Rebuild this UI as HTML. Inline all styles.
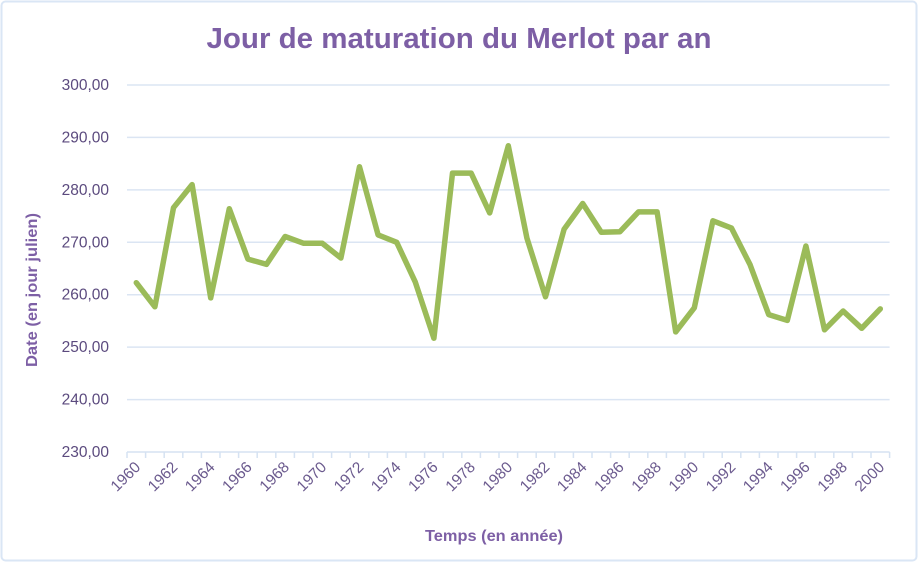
<!DOCTYPE html>
<html><head><meta charset="utf-8"><style>
body{margin:0;background:#fff;}
svg{display:block;font-family:"Liberation Sans",sans-serif;}
</style></head><body>
<svg id="chart" width="918" height="562" viewBox="0 0 918 562" xmlns="http://www.w3.org/2000/svg">
<rect x="1.5" y="1.5" width="915" height="559" rx="4" fill="#fff" stroke="#dae6f5" stroke-width="2"/>
<text x="459" y="48" text-anchor="middle" font-size="29" font-weight="bold" fill="#7d5fa5" textLength="505" lengthAdjust="spacingAndGlyphs">Jour de maturation du Merlot par an</text>
<g id="grid"></g>
<g id="yt"></g>
<g id="xt"></g>
<g id="series"></g>
<text transform="translate(37,290) rotate(-90)" text-anchor="middle" font-size="16" font-weight="bold" fill="#7d5fa5" textLength="154" lengthAdjust="spacingAndGlyphs">Date (en jour julien)</text>
<text x="494" y="541" text-anchor="middle" font-size="16" font-weight="bold" fill="#7d5fa5" textLength="138" lengthAdjust="spacingAndGlyphs">Temps (en année)</text>
</svg>
<script>
const years=[];for(let y=1960;y<=2000;y++)years.push(y);
const values=[262.3,257.7,276.6,281,259.4,276.4,266.8,265.8,271.1,269.8,269.8,267,284.4,271.4,270,262.4,251.7,283.2,283.2,275.6,288.4,270.8,259.6,272.5,277.4,271.9,272,275.8,275.8,252.9,257.5,274.1,272.7,265.7,256.2,255.1,269.3,253.3,256.9,253.6,257.3];
const yTicks=[230,240,250,260,270,280,290,300];
const NS="http://www.w3.org/2000/svg";
const x0=127,x1=889.6,yTop=85,yBot=452,ymin=230,ymax=300;
const bw=(x1-x0)/years.length;
const xs=i=>x0+bw*(i+0.5);
const ys=v=>yBot-(v-ymin)/(ymax-ymin)*(yBot-yTop);
function mk(tag,attrs,parent){const e=document.createElementNS(NS,tag);for(const k in attrs)e.setAttribute(k,attrs[k]);parent.appendChild(e);return e;}
const grid=document.getElementById('grid'),yt=document.getElementById('yt'),xt=document.getElementById('xt'),ser=document.getElementById('series');
yTicks.forEach(t=>{
  const y=ys(t);
  if(t!==ymin){const l=mk('line',{x1:x0,x2:x1,y1:y,y2:y,stroke:'#dbe5f3','stroke-width':1.5},grid);
  
  }
  const tx=mk('text',{x:109,y:y+5,'text-anchor':'end','font-size':15.5,fill:'#5b4a7e'},yt);
  tx.textContent=t.toFixed(2).replace('.',',');
  
  
});
const ax=mk('line',{x1:x0,x2:x1,y1:yBot,y2:yBot,stroke:'#d6e2f2','stroke-width':1.5},xt);


for(let i=0;i<=years.length;i++){
  const x=x0+bw*i;
  const tk=mk('line',{x1:x,x2:x,y1:yBot,y2:yBot+6,stroke:'#d6e2f2','stroke-width':1.5},xt);
  
  
}
years.forEach((yr,i)=>{
  if(i%2)return;
  const x=xs(i)+5,y=yBot+16;
  const tx=mk('text',{x:x,y:y,'text-anchor':'end','font-size':15.5,fill:'#6b5a8e',transform:`rotate(-45 ${x} ${y})`},xt);
  tx.textContent=yr;
  
  
});
const pts=values.map((v,i)=>xs(i).toFixed(1)+','+ys(v).toFixed(1)).join(' ');
const pl=mk('polyline',{points:pts,fill:'none',stroke:'#9bbb59','stroke-width':5.5,'stroke-linejoin':'round','stroke-linecap':'round'},ser);


</script>
</body></html>
